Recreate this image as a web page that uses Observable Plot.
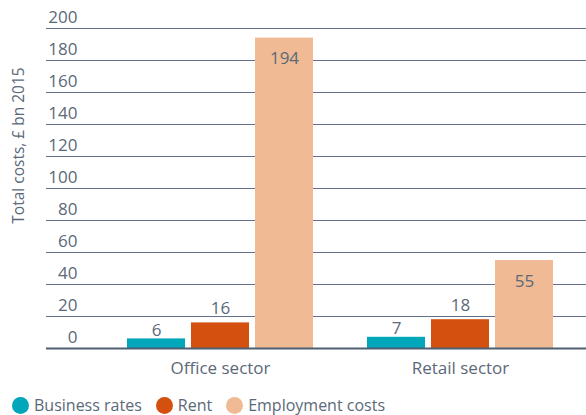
<!DOCTYPE html>
<html>
<head>
<meta charset="utf-8">
<script src="https://cdn.jsdelivr.net/npm/d3@7"></script>
<script src="https://cdn.jsdelivr.net/npm/@observablehq/plot@0.6"></script>
<style>
  body { margin: 0; background: #fff; font-family: "Open Sans", sans-serif; }
  #chart svg { display: block; }
  .legend { display: flex; align-items: center; height: 30px; margin-top: 7px; padding-left: 12px; font-size: 16px; color: #5b6978; }
  .legend .item { display: flex; align-items: center; margin-right: 14px; }
  .legend .dot { width: 17px; height: 17px; border-radius: 50%; margin-right: 5px; }
</style>
</head>
<body>
<div id="chart"></div>
<script>
const sectors = ["Office sector", "Retail sector"];
const seriesNames = ["Business rates", "Rent", "Employment costs"];
const businessRates = [6, 7];
const rent = [16, 18];
const employmentCosts = [194, 55];
const yTicks = [0, 20, 40, 60, 80, 100, 120, 140, 160, 180, 200];
const colors = ["#00a6b9", "#d4500f", "#f0ba94"];
const yLabel = "Total costs, £ bn 2015";

const seriesValues = [businessRates, rent, employmentCosts];
const data = [];
sectors.forEach((sector, i) => {
  seriesNames.forEach((name, j) => {
    data.push({sector, series: name, value: seriesValues[j][i]});
  });
});

const textColor = "#5b6978";
const gridColor = "#62728a";
const baseColor = "#4e5e72";
const fs = 17;
const first = () => sectors[0];
const last = () => sectors[sectors.length - 1];
const bySeries = name => data.filter(d => d.series === name);

const chart = Plot.plot({
  width: 586,
  height: 383,
  marginLeft: 100,
  marginRight: 6,
  marginTop: 28,
  marginBottom: 35,
  style: {fontFamily: "Open Sans, sans-serif", fontSize: fs + "px", color: textColor, background: "#fff"},
  fx: {domain: sectors, padding: 0, label: null, axis: null},
  x: {domain: seriesNames, paddingInner: 0.094, paddingOuter: 0.42, axis: null},
  y: {domain: [0, 200], axis: null},
  color: {domain: seriesNames, range: colors},
  marks: [
    Plot.ruleY(yTicks.filter(d => d > 0), {fx: first, stroke: gridColor, strokeWidth: 1.2, insetLeft: -54}),
    Plot.ruleY(yTicks.filter(d => d > 0), {fx: last, stroke: gridColor, strokeWidth: 1.2, insetRight: -6}),
    Plot.barY(data, {fx: "sector", x: "series", y: "value", fill: "series"}),
    Plot.ruleY([0], {fx: first, stroke: baseColor, strokeWidth: 2.2, insetLeft: -54}),
    Plot.ruleY([0], {fx: last, stroke: baseColor, strokeWidth: 2.2, insetRight: -6}),
    Plot.axisY({ticks: yTicks, tickSize: 0, tickPadding: 23, dy: -11, fontSize: fs, fill: textColor, label: null}),
    Plot.text([yLabel], {fx: first, text: d => d, frameAnchor: "left", textAnchor: "middle", lineAnchor: "middle",
      rotate: -90, dx: -81, dy: -43, fontSize: 15.5, fill: textColor}),
    Plot.axisFx({domain: sectors, anchor: "bottom", tickSize: 0, tickPadding: 13, fontSize: fs, fill: textColor, label: null}),
    Plot.text(bySeries(seriesNames[0]), {fx: "sector", x: "series", y: "value", text: d => String(d.value),
      lineAnchor: "bottom", dy: -3, fontSize: fs, fill: textColor}),
    Plot.text(bySeries(seriesNames[1]), {fx: "sector", x: "series", y: "value", text: d => String(d.value),
      lineAnchor: "bottom", dy: -9, fontSize: fs, fill: textColor}),
    Plot.text(bySeries(seriesNames[2]), {fx: "sector", x: "series", y: "value", text: d => String(d.value),
      lineAnchor: "bottom", dy: 26, fontSize: fs, fill: textColor})
  ]
});
document.getElementById("chart").appendChild(chart);

const legend = d3.select("body").append("div").attr("class", "legend");
seriesNames.forEach((name, i) => {
  const item = legend.append("div").attr("class", "item");
  item.append("div").attr("class", "dot").style("background", colors[i]);
  item.append("span").text(name);
});
</script>
</body>
</html>
